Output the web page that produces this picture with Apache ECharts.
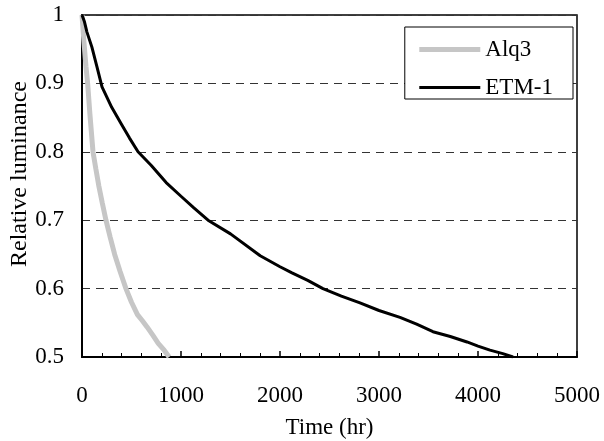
<!DOCTYPE html>
<html><head><meta charset="utf-8">
<script src="https://cdn.jsdelivr.net/npm/echarts@6/dist/echarts.min.js"></script>
<style>html,body{margin:0;padding:0;background:#fff}#c{width:604px;height:441px}</style>
</head><body><div id="c"></div>
<script>
var seriesNames = ['Alq3', 'ETM-1'];
var alq3Time = [0, 10, 20, 40, 57, 80, 111, 140, 170, 205, 242, 285, 330, 385, 444, 500, 560, 610, 657, 715, 770, 830, 880];
var alq3Lum  = [1.0, 0.98, 0.96, 0.925, 0.9, 0.855, 0.8, 0.775, 0.75, 0.725, 0.7, 0.675, 0.65, 0.625, 0.6, 0.58, 0.562, 0.553, 0.544, 0.532, 0.52, 0.51, 0.5];
var etmTime = [0, 25, 50, 100, 150, 202, 300, 400, 480, 566, 700, 850, 1000, 1130, 1273, 1500, 1800, 2000, 2121, 2280, 2434, 2620, 2808, 3000, 3212, 3380, 3545, 3720, 3889, 4000, 4121, 4250, 4354];
var etmLum  = [1.0, 0.99, 0.975, 0.953, 0.925, 0.895, 0.865, 0.84, 0.82, 0.80, 0.78, 0.755, 0.735, 0.718, 0.70, 0.68, 0.648, 0.632, 0.623, 0.612, 0.60, 0.589, 0.579, 0.568, 0.558, 0.548, 0.537, 0.53, 0.522, 0.516, 0.51, 0.505, 0.5];
var xTicks = [0, 1000, 2000, 3000, 4000, 5000];
var yTicks = [0.5, 0.6, 0.7, 0.8, 0.9, 1];

function pairs(t, v) { return t.map(function (x, i) { return [x, v[i]]; }); }
var font = '"Liberation Serif","DejaVu Serif",serif';
var alqColor = '#c6c6c6';
var chart = echarts.init(document.getElementById('c'), null, {renderer: 'canvas'});
chart.setOption({
  animation: false,
  backgroundColor: '#fff',
  textStyle: {fontFamily: font},
  grid: {left: 82, right: 27, top: 15, bottom: 84, show: true, borderColor: '#000', borderWidth: 1.5,
    backgroundColor: 'transparent', outerBoundsMode: 'none', containLabel: false},
  legend: {
    orient: 'vertical', right: 31, top: 27,
    data: [
      {name: seriesNames[0], lineStyle: {width: 5, color: alqColor}},
      {name: seriesNames[1], lineStyle: {width: 3, color: '#000'}}
    ],
    backgroundColor: '#fff',
    borderColor: '#000', borderWidth: 1, borderRadius: 0,
    padding: [11, 20, 0, 12],
    itemWidth: 61, itemHeight: 16, itemGap: 15,
    itemStyle: {opacity: 0},
    textStyle: {fontFamily: font, fontSize: 23, color: '#000', lineHeight: 20}
  },
  xAxis: {
    type: 'value', min: xTicks[0], max: xTicks[xTicks.length - 1], interval: 1000,
    name: 'Time (hr)', nameLocation: 'middle', nameGap: 59,
    nameTextStyle: {fontFamily: font, fontSize: 23, color: '#000'},
    axisLine: {show: true, onZero: false, lineStyle: {color: '#000', width: 2}},
    axisTick: {show: true, inside: true, length: 6, lineStyle: {color: '#000', width: 1.5}},
    minorTick: {show: true, splitNumber: 5, length: 4, lineStyle: {color: '#000', width: 1}},
    axisLabel: {fontFamily: font, fontSize: 23, color: '#000', margin: 27,
      formatter: function (v) { return String(v); }},
    splitLine: {show: false}
  },
  yAxis: {
    type: 'value', min: yTicks[0], max: yTicks[yTicks.length - 1], interval: 0.1,
    name: 'Relative luminance', nameLocation: 'middle', nameGap: 50, nameMoveOverlap: false,
    nameTextStyle: {fontFamily: font, fontSize: 24, color: '#000', padding: [0, 0, 0, 24]},
    axisLine: {show: true, onZero: false, lineStyle: {color: '#000', width: 2}},
    axisTick: {show: false},
    axisLabel: {fontFamily: font, fontSize: 23, color: '#000', margin: 18,
      formatter: function (v) { return Math.abs(v - 1) < 1e-9 ? '1' : v.toFixed(1); }},
    splitLine: {show: true, lineStyle: {color: '#333', width: 1, type: [8, 6]}}
  },
  series: [
    {name: seriesNames[0], type: 'line', symbol: 'none', data: pairs(alq3Time, alq3Lum),
     lineStyle: {color: alqColor, width: 5}, itemStyle: {color: alqColor}, z: 3},
    {name: seriesNames[1], type: 'line', symbol: 'none', data: pairs(etmTime, etmLum),
     lineStyle: {color: '#000', width: 3}, itemStyle: {color: '#000'}, z: 4}
  ]
});
</script></body></html>
